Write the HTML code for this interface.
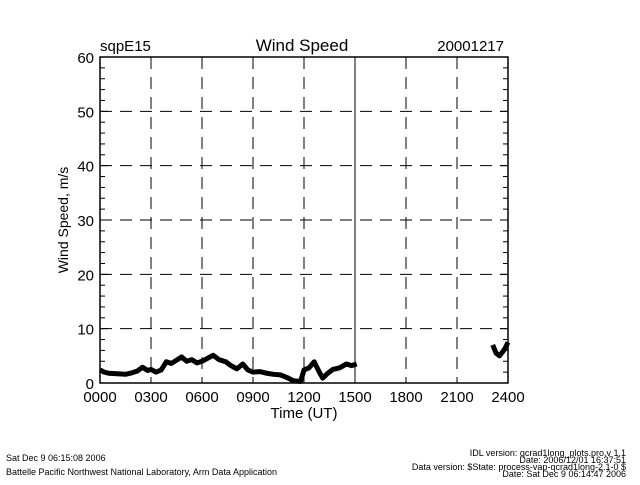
<!DOCTYPE html>
<html><head><meta charset="utf-8"><style>
body{margin:0;background:#fff;}
svg text{font-family:"Liberation Sans",sans-serif;fill:#000;}
</style></head><body>
<svg width="640" height="480" xmlns="http://www.w3.org/2000/svg">
<script>
const hours=[0,0.25,0.5,1,1.5,1.8,2.2,2.5,2.8,3.0,3.3,3.6,3.9,4.2,4.5,4.8,5.1,5.4,5.7,6.0,6.3,6.65,7.0,7.4,7.7,8.05,8.4,8.7,9.0,9.4,9.8,10.2,10.6,11.0,11.4,11.8,12.0,12.3,12.6,12.9,13.1,13.4,13.7,14.1,14.5,14.8,15.1];
const speeds=[2.4,2.0,1.8,1.7,1.6,1.8,2.2,2.9,2.3,2.5,2.0,2.4,3.9,3.6,4.2,4.8,4.0,4.3,3.7,4.0,4.5,5.1,4.3,3.9,3.2,2.6,3.5,2.4,2.0,2.1,1.8,1.6,1.5,1.0,0.4,0.3,2.4,2.8,3.9,2.0,0.9,1.8,2.5,2.8,3.5,3.2,3.5];
const hours2=[23.1,23.3,23.5,23.7,23.85,24.0];
const speeds2=[7.0,5.5,5.0,5.8,6.5,7.5];
const xTicks=["0000","0300","0600","0900","1200","1500","1800","2100","2400"];
const yTicks=[0,10,20,30,40,50,60];
</script>
<g id="g"></g>
<text x="100" y="51" font-size="15">sqpE15</text>
<text x="302" y="51" font-size="17" text-anchor="middle">Wind Speed</text>
<text x="504" y="51" font-size="15" text-anchor="end">20001217</text>
<text x="304" y="418" font-size="15" text-anchor="middle">Time (UT)</text>
<text transform="translate(68,220) rotate(-90)" font-size="14" text-anchor="middle">Wind Speed, m/s</text>
<text x="6" y="461" font-size="9">Sat Dec  9 06:15:08 2006</text>
<text x="6" y="475" font-size="9">Battelle Pacific Northwest National Laboratory, Arm Data Application</text>
<g font-size="9" text-anchor="end">
<text x="626" y="456">IDL version: qcrad1long_plots.pro,v 1.1</text>
<text x="626" y="463">Date: 2006/12/01 16:37:51</text>
<text x="626" y="470">Data version: $State: process-vap-qcrad1long-2.1-0 $</text>
<text x="626" y="477">Date: Sat Dec  9 06:14:47 2006</text>
</g>
<script>
(function(){
const NS="http://www.w3.org/2000/svg",g=document.getElementById('g');
const L=100,R=508,T=57,B=383;
const X=h=>L+(R-L)*h/24, Y=v=>B-(B-T)*v/60;
function el(t,a){const e=document.createElementNS(NS,t);for(const k in a)e.setAttribute(k,a[k]);g.appendChild(e);return e;}
xTicks.forEach((s,i)=>{const x=X(i*3);
 if(i>0&&i<8){const l=el('line',{x1:x,x2:x,y1:T,y2:B,stroke:'#000','stroke-width':1,'stroke-dasharray':i==5?'none':'12,8'});
 
 }
 const t=el('text',{x:x,y:402,'font-size':15,'text-anchor':'middle'});t.textContent=s;
 
 });
yTicks.forEach(v=>{const y=Y(v);
 if(v>0&&v<60){const l=el('line',{x1:L,x2:R,y1:y,y2:y,stroke:'#000','stroke-width':1,'stroke-dasharray':'12,8'});
 
 }
 const t=el('text',{x:94,y:y+6,'font-size':15,'text-anchor':'end'});t.textContent=v;
 
 });
for(let v=0;v<=60;v+=2){const y=Y(v),w=v%10==0?8:5;
 el('line',{x1:L,x2:L+w,y1:y,y2:y,stroke:'#000'});el('line',{x1:R,x2:R-w,y1:y,y2:y,stroke:'#000'});}
const f=el('rect',{x:L,y:T,width:R-L,height:B-T,fill:'none',stroke:'#000','stroke-width':1.5});


function series(hs,vs,n){const p=el('polyline',{points:hs.map((h,i)=>X(h)+','+Y(vs[i])).join(' '),fill:'none',stroke:'#000','stroke-width':5,'stroke-linejoin':'round'});
 
 }
series(hours,speeds,'wind-speed-line-early');
series(hours2,speeds2,'wind-speed-line-late');
})();
</script>
</svg>
</body></html>
